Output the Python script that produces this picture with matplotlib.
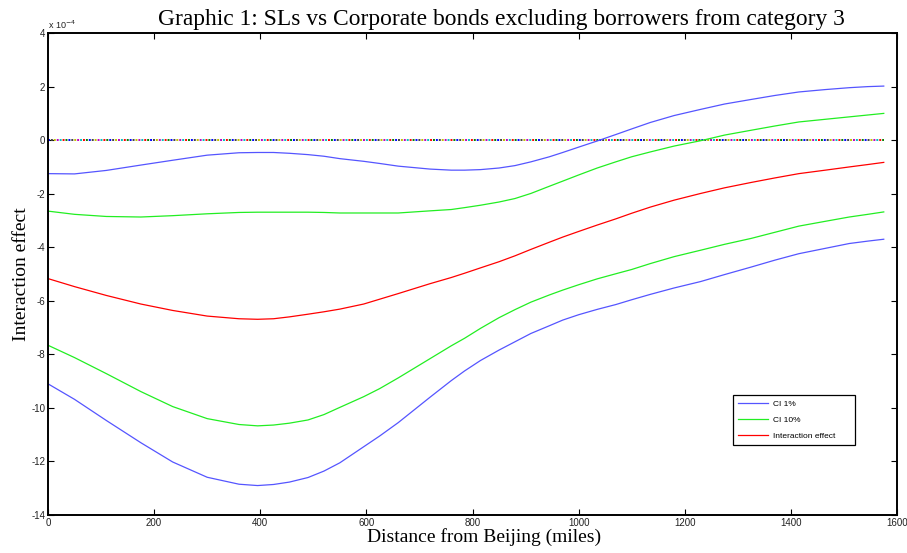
import numpy as np
import matplotlib
matplotlib.use('Agg')
import matplotlib.pyplot as plt

plt.rcParams['axes.unicode_minus'] = False

# distance grid (miles) and curves (units of 1e-4)
distance = [0, 50, 110, 175, 235, 300, 360, 395, 425, 455, 490, 520, 550, 595, 625,
            660, 720, 760, 785, 815, 850, 880, 910, 945, 970, 1000, 1035, 1070, 1100,
            1135, 1180, 1230, 1275, 1325, 1370, 1415, 1465, 1510, 1545, 1575]

ci1_upper = [-1.25, -1.26, -1.13, -0.93, -0.75, -0.56, -0.47, -0.46, -0.46, -0.49,
             -0.54, -0.60, -0.69, -0.79, -0.87, -0.97, -1.08, -1.12, -1.12, -1.10,
             -1.04, -0.95, -0.81, -0.62, -0.46, -0.26, -0.03, 0.21, 0.42, 0.66,
             0.92, 1.15, 1.35, 1.52, 1.67, 1.80, 1.89, 1.96, 2.00, 2.02]
ci10_upper = [-2.65, -2.77, -2.85, -2.87, -2.82, -2.75, -2.70, -2.69, -2.69, -2.69,
              -2.69, -2.70, -2.72, -2.72, -2.72, -2.72, -2.64, -2.59, -2.52, -2.43,
              -2.31, -2.18, -1.99, -1.72, -1.53, -1.30, -1.04, -0.81, -0.62, -0.44,
              -0.22, -0.02, 0.19, 0.37, 0.53, 0.68, 0.78, 0.87, 0.94, 1.00]
effect = [-5.17, -5.47, -5.80, -6.12, -6.36, -6.57, -6.67, -6.69, -6.67, -6.60,
          -6.50, -6.41, -6.31, -6.12, -5.94, -5.73, -5.36, -5.13, -4.97, -4.77,
          -4.54, -4.32, -4.08, -3.81, -3.62, -3.41, -3.17, -2.94, -2.73, -2.50,
          -2.24, -1.99, -1.78, -1.58, -1.41, -1.25, -1.12, -1.00, -0.91, -0.83]
ci10_lower = [-7.66, -8.12, -8.72, -9.39, -9.95, -10.40, -10.62, -10.67, -10.64, -10.57,
              -10.45, -10.25, -9.98, -9.58, -9.28, -8.88, -8.16, -7.68, -7.40, -7.03,
              -6.63, -6.33, -6.05, -5.78, -5.60, -5.40, -5.18, -4.99, -4.83, -4.61,
              -4.35, -4.11, -3.89, -3.67, -3.44, -3.21, -3.03, -2.87, -2.77, -2.68]
ci1_lower = [-9.10, -9.68, -10.47, -11.30, -12.02, -12.59, -12.85, -12.90, -12.86, -12.77,
             -12.60, -12.36, -12.05, -11.45, -11.05, -10.55, -9.60, -8.98, -8.62, -8.23,
             -7.84, -7.53, -7.22, -6.93, -6.72, -6.52, -6.32, -6.14, -5.96, -5.76,
             -5.52, -5.28, -5.02, -4.74, -4.48, -4.24, -4.04, -3.86, -3.77, -3.70]

zero_x = [0, 1575]
zero_y = [0, 0]

x_ticks = list(range(0, 1601, 200))
y_ticks = list(range(-14, 5, 2))

fig = plt.figure(figsize=(9.07, 5.53), dpi=100)
ax = fig.add_axes([0.0529, 0.0687, 0.9361, 0.8715])

# multicoloured dotted zero line (many overlaid MATLAB lines)
zero_colors = ['#0000ff', '#008000', '#ff0000', '#00bfbf', '#bf00bf', '#bfbf00', '#404040']
for i, c in enumerate(zero_colors):
    ax.plot(zero_x, zero_y, color=c, lw=1.4, solid_capstyle='butt',
            linestyle=(i * 1.5, (1.0, 9.5)), dash_capstyle='butt')

l1, = ax.plot(distance, ci1_upper, color='#5555ff', lw=0.9)
ax.plot(distance, ci1_lower, color='#5555ff', lw=0.9)
l2, = ax.plot(distance, ci10_upper, color='#22ee22', lw=0.9)
ax.plot(distance, ci10_lower, color='#22ee22', lw=0.9)
l3, = ax.plot(distance, effect, color='#ff0000', lw=0.9)

ax.set_xlim(0, 1600)
ax.set_ylim(-14, 4)
ax.set_xticks(x_ticks)
ax.set_yticks(y_ticks)
ax.tick_params(direction='in', length=4, width=0.8, top=True, right=True,
               labelsize=7, labelcolor='#222222', pad=2)
for lab in ax.get_xticklabels() + ax.get_yticklabels():
    lab.set_family('Liberation Sans')
for s in ax.spines.values():
    s.set_linewidth(1.4)

ax.text(0, 1.004, 'x 10$^{-4}$', transform=ax.transAxes, fontsize=6.5,
        family='Liberation Sans', color='#222222', va='bottom', ha='left')

ax.set_title('Graphic 1: SLs vs Corporate bonds excluding borrowers from category 3',
             family='Liberation Serif', fontsize=16.9, pad=6, x=0.534)
ax.set_xlabel('Distance from Beijing (miles)', family='Liberation Serif', fontsize=14,
              labelpad=0, x=0.514)
ax.set_ylabel('Interaction effect', family='Liberation Serif', fontsize=14, labelpad=1)

leg = ax.legend([l1, l2, l3], ['CI 1%', 'CI 10%', 'Interaction effect'],
                loc='lower left', bbox_to_anchor=(0.807, 0.145, 0.144, 0.1),
                mode='expand', fancybox=False, edgecolor='black', framealpha=1,
                prop={'family': 'Liberation Sans', 'size': 6}, handlelength=3.6,
                borderaxespad=0, labelspacing=1.0, handletextpad=0.6,
                borderpad=0.6)
leg.get_frame().set_linewidth(0.9)

fig.savefig('out.png', dpi=100)
